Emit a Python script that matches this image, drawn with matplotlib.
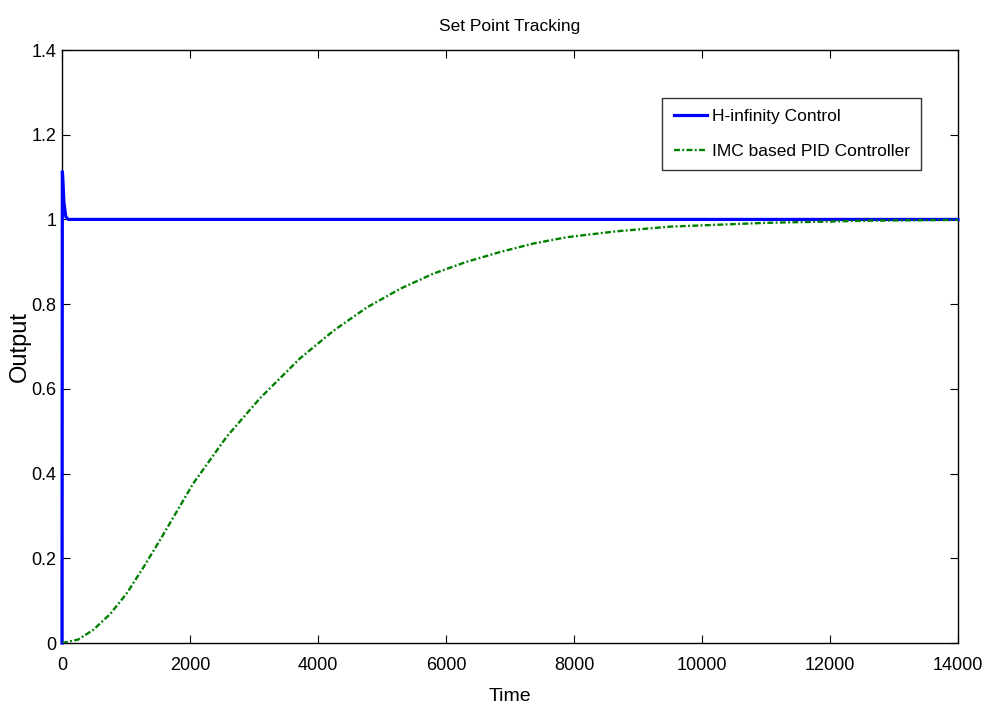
import matplotlib

matplotlib.use("Agg")
import matplotlib.pyplot as plt

# H-infinity response (fast, small overshoot)
hinf_t = [0, 5, 12, 30, 60, 100, 14000]
hinf_y = [0.0, 1.113, 1.10, 1.04, 1.006, 1.0, 1.0]

# IMC based PID response (slow S-curve)
imc_t = [0, 250, 489, 750, 1011, 1270, 1531, 2052, 2573, 3094, 3719, 4240,
         4761, 5281, 5802, 6323, 6844, 7364, 7886, 8667, 9500, 11010, 12573, 14000]
imc_y = [0.0, 0.008, 0.031, 0.068, 0.117, 0.178, 0.243, 0.377, 0.487, 0.578,
         0.672, 0.737, 0.792, 0.836, 0.872, 0.900, 0.923, 0.943, 0.958, 0.972,
         0.983, 0.992, 0.997, 0.999]

x_ticks = [0, 2000, 4000, 6000, 8000, 10000, 12000, 14000]
y_ticks = [0, 0.2, 0.4, 0.6, 0.8, 1, 1.2, 1.4]
y_tick_labels = ["0", "0.2", "0.4", "0.6", "0.8", "1", "1.2", "1.4"]

plt.rcParams["font.family"] = ["Liberation Sans", "DejaVu Sans"]

fig = plt.figure(figsize=(9.89, 7.10), dpi=100)
ax = fig.add_axes([62 / 989, 67 / 710, 896 / 989, 593 / 710])

ax.plot(hinf_t, hinf_y, color="#0000ff", linewidth=2.3, label="H-infinity Control",
        zorder=3, clip_on=False)
ax.plot(imc_t, imc_y, color="#008000", linewidth=1.7,
        linestyle=(0, (2.5, 1.0, 0.8, 1.0)), label="IMC based PID Controller", zorder=3)

ax.set_xlim(0, 14000)
ax.set_ylim(0, 1.4)
ax.set_xticks(x_ticks)
ax.set_xticklabels([str(t) for t in x_ticks])
ax.set_yticks(y_ticks)
ax.set_yticklabels(y_tick_labels)
ax.tick_params(direction="in", length=6, width=0.8, labelsize=13, top=True, right=True,
               colors="black")
ax.tick_params(axis="x", pad=10)
ax.tick_params(axis="y", pad=4)
for spine in ax.spines.values():
    spine.set_linewidth(1.0)

ax.set_title("Set Point Tracking", fontsize=12.5, pad=14)
ax.set_xlabel("Time", fontsize=14, labelpad=10)
ax.set_ylabel("Output", fontsize=17, labelpad=0)

leg = ax.legend(loc="upper right", bbox_to_anchor=((921 - 62) / 896, (643 - 98) / 593),
                fontsize=12.5, frameon=True, fancybox=False, edgecolor="black",
                handlelength=1.9, handletextpad=0.3, borderpad=0.65, labelspacing=1.1,
                borderaxespad=0)
leg.get_frame().set_linewidth(1.0)

fig.savefig("out.png", dpi=100)
